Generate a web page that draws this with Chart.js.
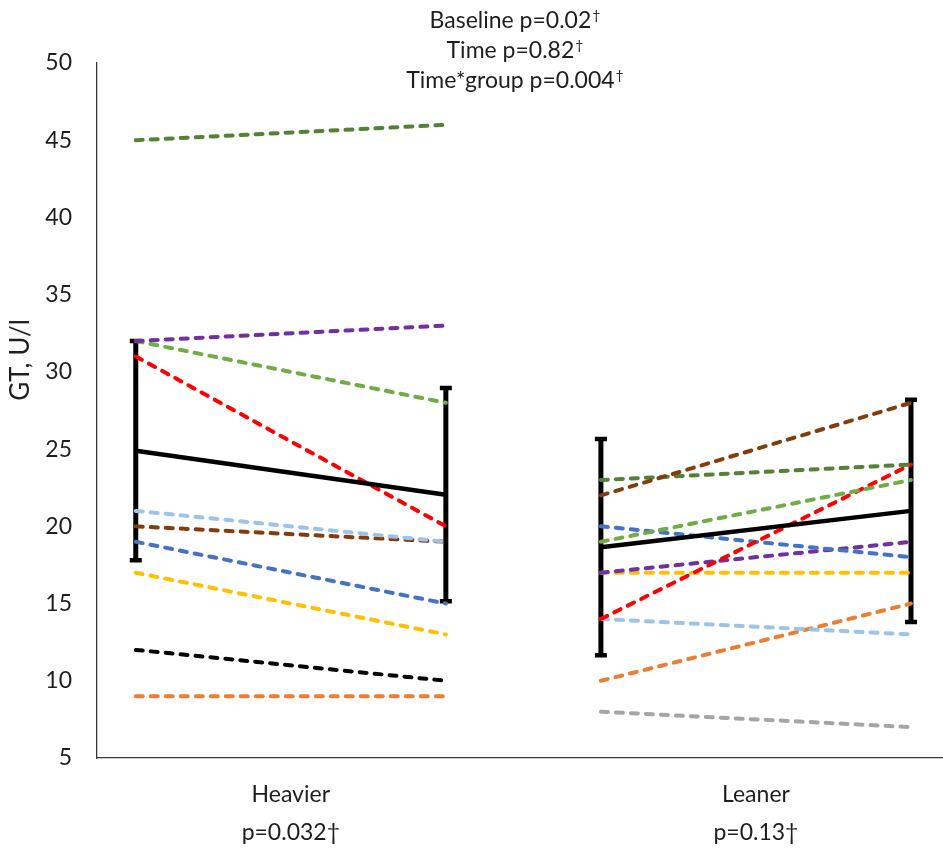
<!DOCTYPE html>
<html>
<head>
<meta charset="utf-8">
<script src="https://cdn.jsdelivr.net/npm/chart.js@4/dist/chart.umd.min.js"></script>
<style>
  html, body { margin: 0; padding: 0; background: #ffffff; }
  canvas { display: block; }
</style>
</head>
<body>
<canvas id="c" width="943" height="848"></canvas>
<script>
// ---------- DATA ----------
const groupNames = ["Heavier", "Leaner"];
const groupPValues = ["p=0.032\u2020", "p=0.13\u2020"];
const titleLines = ["Baseline p=0.02", "Time p=0.82", "Time*group p=0.004"];
const yAxisTitle = "GT, U/l";
const yTicks = [5, 10, 15, 20, 25, 30, 35, 40, 45, 50];

// x slot of each group (pre, post)
const groupStart = [0, 1.5];
const timeOffsets = [0, 1];

// individual subjects, Heavier group (pre -> post)
const heavierPre  = [45, 32, 32, 31, 21, 20, 19, 17, 12, 9];
const heavierPost = [46, 33, 28, 20, 19, 19, 15, 13, 10, 9];
const heavierColors = ["#548235", "#7030A0", "#70AD47", "#FF0000", "#9DC3E6",
                       "#843C0C", "#4472C4", "#FFC000", "#000000", "#ED7D31"];

// individual subjects, Leaner group (pre -> post)
const leanerPre  = [22, 23, 19, 14, 20, 17, 17, 14, 10, 8];
const leanerPost = [28, 24, 23, 24, 18, 19, 17, 13, 15, 7];
const leanerColors = ["#843C0C", "#548235", "#70AD47", "#FF0000", "#4472C4",
                      "#7030A0", "#FFC000", "#9DC3E6", "#ED7D31", "#A5A5A5"];

// group means and SD (pre, post)
const heavierMean = [24.9, 22.05];
const heavierSD   = [7.1, 6.9];
const leanerMean  = [18.65, 21.0];
const leanerSD    = [7.0, 7.2];

// ---------- BUILD ----------
const textColor = "#1e1e1e";
const FONT = "Lato, 'Open Sans', sans-serif";

function subjectDatasets(pre, post, colors, g) {
  return pre.map((v, i) => ({
    type: "line",
    data: [
      { x: groupStart[g] + timeOffsets[0], y: v },
      { x: groupStart[g] + timeOffsets[1], y: post[i] }
    ],
    borderColor: colors[i],
    borderWidth: 4,
    borderDash: [7, 8],
    borderCapStyle: "round",
    pointRadius: 0,
    tension: 0,
    order: 2
  }));
}
function meanDataset(mean, g) {
  return {
    type: "line",
    data: mean.map((m, t) => ({ x: groupStart[g] + timeOffsets[t], y: m })),
    borderColor: "#000000",
    borderWidth: 4.5,
    pointRadius: 0,
    tension: 0,
    order: 1
  };
}

const datasets = [
  meanDataset(heavierMean, 0),
  meanDataset(leanerMean, 1),
  ...subjectDatasets(heavierPre, heavierPost, heavierColors, 0),
  ...subjectDatasets(leanerPre, leanerPost, leanerColors, 1)
];

const errorBars = [
  { mean: heavierMean, sd: heavierSD, g: 0 },
  { mean: leanerMean, sd: leanerSD, g: 1 }
];

const errorBarPlugin = {
  id: "errorBars",
  beforeDatasetsDraw(chart) {
    const { ctx, scales: { x, y } } = chart;
    ctx.save();
    ctx.strokeStyle = "#000000";
    ctx.lineCap = "butt";
    errorBars.forEach(eb => {
      eb.mean.forEach((m, t) => {
        const px = x.getPixelForValue(groupStart[eb.g] + timeOffsets[t]);
        const top = y.getPixelForValue(m + eb.sd[t]);
        const bot = y.getPixelForValue(m - eb.sd[t]);
        ctx.lineWidth = 5;
        ctx.beginPath();
        ctx.moveTo(px, top);
        ctx.lineTo(px, bot);
        ctx.stroke();
        ctx.lineWidth = 4.5;
        ctx.beginPath();
        ctx.moveTo(px - 6, top); ctx.lineTo(px + 6, top);
        ctx.moveTo(px - 6, bot); ctx.lineTo(px + 6, bot);
        ctx.stroke();
      });
    });
    ctx.restore();
  }
};

const textPlugin = {
  id: "texts",
  afterDraw(chart) {
    const { ctx, chartArea } = chart;
    ctx.save();
    ctx.fillStyle = textColor;
    // title lines with superscript dagger
    const cx = (chartArea.left + chartArea.right) / 2 - 5;
    const baselines = [28, 58, 88];
    titleLines.forEach((line, i) => {
      ctx.font = "23px " + FONT;
      const w1 = ctx.measureText(line).width;
      ctx.font = "14px " + FONT;
      const w2 = ctx.measureText("\u2020").width;
      const x0 = cx - (w1 + w2) / 2;
      ctx.textBaseline = "alphabetic";
      ctx.textAlign = "left";
      ctx.font = "23px " + FONT;
      ctx.fillText(line, x0, baselines[i]);
      ctx.font = "14px " + FONT;
      ctx.fillText("\u2020", x0 + w1 + 1, baselines[i] - 8);
    });
    // y axis title
    ctx.translate(21, 360);
    ctx.rotate(-Math.PI / 2);
    ctx.font = "26px " + FONT;
    ctx.textAlign = "center";
    ctx.textBaseline = "middle";
    ctx.fillText(yAxisTitle, 0, 0);
    ctx.restore();
  }
};

new Chart(document.getElementById("c"), {
  type: "line",
  data: { datasets },
  plugins: [errorBarPlugin, textPlugin],
  options: {
    responsive: false,
    animation: false,
    devicePixelRatio: 1,
    layout: { padding: { top: 63, right: 1, bottom: 0, left: 0 } },
    plugins: {
      legend: { display: false },
      title: { display: false },
      tooltip: { enabled: false }
    },
    scales: {
      x: {
        type: "linear",
        min: -0.125,
        max: 2.6,
        grid: { display: false, drawTicks: false },
        border: { display: true, color: "#3a3a3a", width: 1.3 },
        afterBuildTicks(axis) {
          axis.ticks = groupNames.map((n, i) => ({ value: groupStart[i] + 0.5 }));
        },
        afterFit(axis) { axis.height = 90; },
        ticks: {
          autoSkip: false,
          maxRotation: 0,
          padding: 18,
          color: textColor,
          font: { family: FONT, size: 23, lineHeight: 1.65 },
          callback(value, index) { return [groupNames[index], groupPValues[index]]; }
        }
      },
      y: {
        type: "linear",
        min: 5,
        max: 50,
        grid: { display: false, drawTicks: false },
        border: { display: true, color: "#3a3a3a", width: 1.3 },
        afterBuildTicks(axis) { axis.ticks = yTicks.map(v => ({ value: v })); },
        afterFit(axis) { axis.width = 97; },
        ticks: {
          padding: 25,
          color: textColor,
          font: { family: FONT, size: 23 }
        }
      }
    }
  }
});
</script>
</body>
</html>
